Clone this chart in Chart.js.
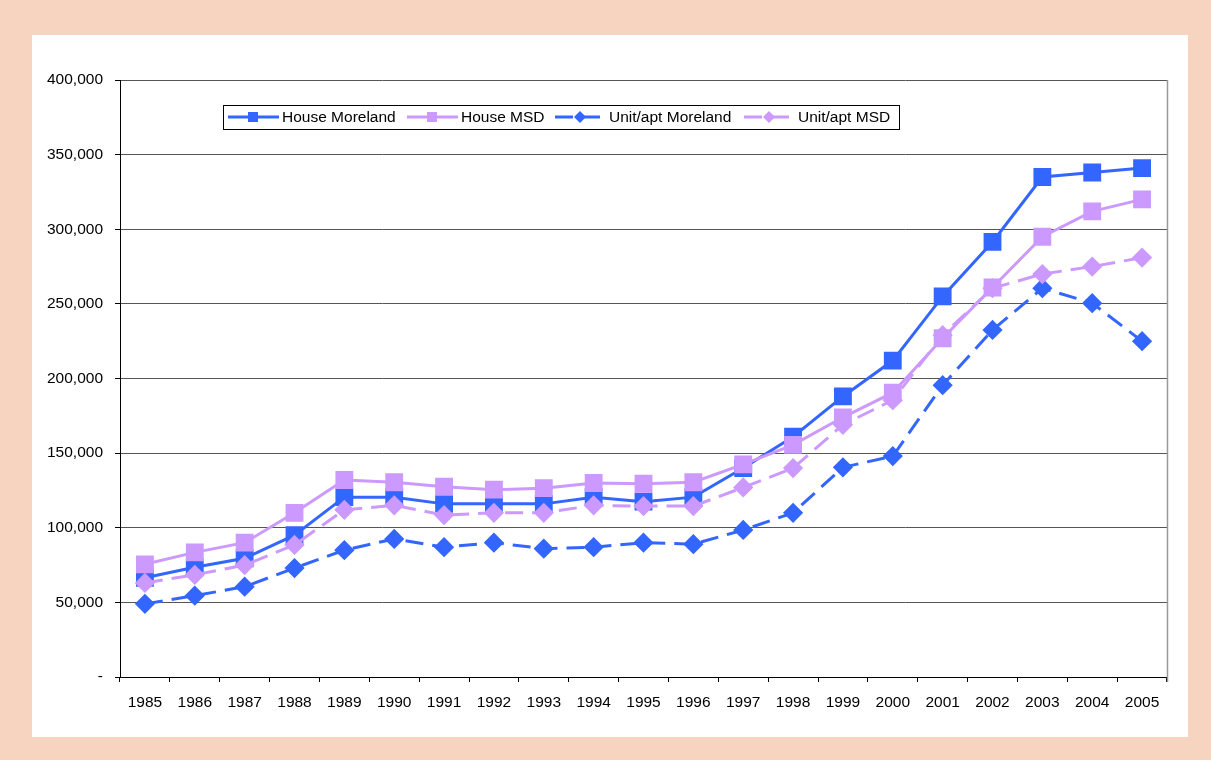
<!DOCTYPE html>
<html>
<head>
<meta charset="utf-8">
<script src="https://cdn.jsdelivr.net/npm/chart.js@4/dist/chart.umd.min.js"></script>
<style>
  html, body { margin: 0; padding: 0; background: #f6d4c0; }
  #wrap { width: 1211px; height: 760px; position: relative; }
</style>
</head>
<body>
<div id="wrap"><canvas id="hargaChart" width="1211" height="760"></canvas></div>
<script>
// * data harga rumah
const years = ["1985", "1986", "1987", "1988", "1989", "1990", "1991", "1992", "1993", "1994", "1995",
  "1996", "1997", "1998", "1999", "2000", "2001", "2002", "2003", "2004", "2005"];
const houseMoreland = [66500, 73500, 79500, 95000, 120500, 120500, 116000, 116000, 116000, 120500, 117500,
  120500, 140000, 161000, 188000, 212000, 255000, 291500, 335000, 338000, 341000];
const houseMSD = [75500, 83500, 90000, 110000, 132000, 130500, 127500, 125500, 126500, 130000, 129500,
  130500, 142500, 155500, 174000, 190500, 227000, 261000, 295000, 312000, 320000];
const unitMoreland = [49000, 54500, 60500, 73000, 85000, 92500, 87000, 90000, 86000, 87000, 90000,
  89000, 98500, 110000, 140500, 148000, 195500, 232500, 260500, 250500, 225000];
const unitMSD = [63000, 68500, 75000, 88500, 112000, 115000, 108500, 110000, 110000, 115000, 114500,
  114500, 127000, 140000, 169000, 185500, 229000, 260500, 270000, 275000, 281000];
const yTicks = [0, 50000, 100000, 150000, 200000, 250000, 300000, 350000, 400000];

const blue = "#3366ff";
const purple = "#cc99ff";
const fontFam = "'Liberation Sans', Arial, sans-serif";

// ? background peach + kotak putih
const bgPlugin = {
  id: "bgPlugin",
  beforeDraw(chart) {
    const ctx = chart.ctx;
    ctx.save();
    ctx.fillStyle = "#f6d4c0";
    ctx.fillRect(0, 0, chart.width, chart.height);
    ctx.fillStyle = "#ffffff";
    ctx.fillRect(32, 35, 1156, 702);
    ctx.restore();
  },
  afterDraw(chart) {
    const ctx = chart.ctx;
    const a = chart.chartArea;
    ctx.save();
    // garis kanan plot
    ctx.strokeStyle = "#999999";
    ctx.lineWidth = 1.5;
    ctx.beginPath();
    ctx.moveTo(a.right + 0.5, a.top);
    ctx.lineTo(a.right + 0.5, a.bottom + 5);
    ctx.stroke();

    // ? legend di dalam plot
    const items = [
      { x: 228, tx: 282 },
      { x: 407, tx: 461 },
      { x: 555, tx: 609 },
      { x: 744, tx: 798 },
    ];
    const ly = 117;
    ctx.fillStyle = "#ffffff";
    ctx.fillRect(223, 105, 676, 24);
    ctx.strokeStyle = "#000000";
    ctx.lineWidth = 1;
    ctx.strokeRect(223.5, 105.5, 676, 24);
    chart.data.datasets.forEach((ds, i) => {
      const it = items[i];
      ctx.strokeStyle = ds.borderColor;
      ctx.lineWidth = 3;
      ctx.setLineDash(ds.borderDash || []);
      ctx.beginPath();
      ctx.moveTo(it.x, ly);
      ctx.lineTo(it.x + 51, ly);
      ctx.stroke();
      ctx.setLineDash([]);
      ctx.fillStyle = ds.borderColor;
      const cx = it.x + 25;
      if (ds.pointStyle === "rect") {
        ctx.fillRect(cx - 5, ly - 5, 10, 10);
      } else {
        ctx.beginPath();
        ctx.moveTo(cx, ly - 6);
        ctx.lineTo(cx + 6, ly);
        ctx.lineTo(cx, ly + 6);
        ctx.lineTo(cx - 6, ly);
        ctx.closePath();
        ctx.fill();
      }
      ctx.fillStyle = "#000000";
      ctx.font = "15.5px " + fontFam;
      ctx.textBaseline = "middle";
      ctx.textAlign = "left";
      ctx.fillText(ds.label, it.tx, ly + 1);
    });
    ctx.restore();
  },
};

const hargaCanvas = document.getElementById("hargaChart").getContext("2d");
const hargaData = {
  labels: years,
  datasets: [
    {
      label: "House Moreland",
      data: houseMoreland,
      borderColor: blue,
      backgroundColor: blue,
      borderWidth: 3,
      pointStyle: "rect",
      pointRadius: 10.5,
      order: 4,
    },
    {
      label: "House MSD",
      data: houseMSD,
      borderColor: purple,
      backgroundColor: purple,
      borderWidth: 3,
      pointStyle: "rect",
      pointRadius: 10.5,
      order: 3,
    },
    {
      label: "Unit/apt Moreland",
      data: unitMoreland,
      borderColor: blue,
      backgroundColor: blue,
      borderWidth: 3,
      borderDash: [18, 9],
      pointStyle: "rectRot",
      pointRadius: 8,
      order: 2,
    },
    {
      label: "Unit/apt MSD",
      data: unitMSD,
      borderColor: purple,
      backgroundColor: purple,
      borderWidth: 3,
      borderDash: [18, 9],
      pointStyle: "rectRot",
      pointRadius: 8,
      order: 1,
    },
  ],
};

const hargaChart = new Chart(hargaCanvas, {
  type: "line",
  data: hargaData,
  plugins: [bgPlugin],
  options: {
    responsive: false,
    animation: false,
    maintainAspectRatio: false,
    layout: { padding: { left: 0, right: 44, top: 80, bottom: 43 } },
    elements: { line: { tension: 0 }, point: { borderWidth: 0, hoverRadius: 10 } },
    plugins: { legend: { display: false }, tooltip: { enabled: false } },
    scales: {
      x: {
        offset: true,
        grid: { display: true, drawOnChartArea: false, offset: true, tickLength: 5, color: "#000000" },
        border: { color: "#000000", width: 1 },
        ticks: { color: "#000000", font: { family: fontFam, size: 15.5 }, padding: 11, maxRotation: 0, autoSkip: false },
        afterFit(scale) { scale.height = 40; },
      },
      y: {
        min: 0,
        max: 400000,
        afterBuildTicks(scale) { scale.ticks = yTicks.map((v) => ({ value: v })); },
        grid: { color: "#555555", lineWidth: 1, tickLength: 5, tickColor: "#000000" },
        border: { color: "#000000", width: 1 },
        ticks: {
          color: "#000000",
          font: { family: fontFam, size: 15.5 },
          padding: 12,
          callback: (v) => (v === 0 ? "-" : v.toLocaleString("en-US")),
        },
        afterFit(scale) { scale.width = 120; },
      },
    },
  },
});
</script>
</body>
</html>
